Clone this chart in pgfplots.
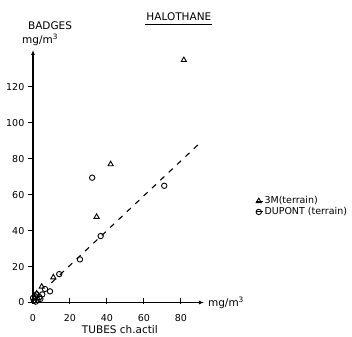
\documentclass[border=0pt]{standalone}
\usepackage{fontspec}
\setmainfont{DejaVu Sans}
\usepackage{pgfplots}
\pgfplotsset{compat=1.18}
\usetikzlibrary{arrows.meta}
\begin{document}
\begin{tikzpicture}
\fontsize{10.5}{12}\selectfont
\path[use as bounding box] (-33pt,-33.5pt) rectangle (319pt,302.5pt);
\begin{axis}[
  at={(0,0)}, anchor=origin,
  scale only axis, width=171pt, height=252.5pt,
  xmin=0, xmax=92.5, ymin=0, ymax=140.6,
  axis lines=left,
  axis line style={line width=1.1pt, -{Latex[length=5pt,width=4pt]}},
  xtick={0,20,40,60,80}, ytick={0,20,40,60,80,100,120},
  tick align=outside, major tick length=5pt,
  tick style={line width=1pt, black},
  xtick style={yshift=4pt},
  xticklabel style={yshift=-3pt},
  /pgf/number format/assume math mode=true,
  ticklabel style={font=\fontsize{9.5}{11}\selectfont},
  clip=false,
  legend style={at={(1.30,0.38)}, anchor=west, draw=none, fill=none,
    font=\fontsize{9.5}{11}\selectfont, row sep=0pt, inner sep=0pt,
    nodes={inner sep=1pt}},
  legend cell align=left,
  legend image code/.code={\path (-0.05cm,0) -- (0.2cm,0);\draw[#1] plot coordinates {(0.05cm,0cm)};},
]
\addplot[only marks, mark=triangle, mark size=3pt, line width=0.9pt, black]
  coordinates {(81.6,135) (42,77) (34.4,47.7) (11,14) (4.7,8.8) (2,5) (1,2.5)};
\addlegendentry{3M(terrain)}
\addplot[only marks, mark=o, mark size=2.7pt, line width=0.9pt, black]
  coordinates {(32,69.5) (71,65) (36.6,37) (25.4,24) (14.2,15.8) (9.2,6.2) (6.5,7.5)
   (5,4.5) (3.5,3) (2.5,1.5) (1,3.5) (0.5,1) (1.5,0.5) (0,2.5) (4,2) (2,4.5)};
\addlegendentry{DUPONT (terrain)}
\addplot[black, line width=1.1pt, dash pattern=on 5.5pt off 6pt, forget plot]
  coordinates {(10,11) (91,89.5)};
\node at (axis cs:78.9,159) {HALOTHANE};
\draw[line width=1pt] (axis cs:60.5,155) -- (axis cs:96.8,155);
\node at (axis cs:9.2,154) {BADGES};
\node at (axis cs:3.8,146) {mg/m\textsuperscript{3}};
\node[anchor=west, inner sep=0pt] at (axis cs:94.6,0) {mg/m\textsuperscript{3}};
\node at (axis cs:47,-15.3) {TUBES ch.actil};
\end{axis}
\end{tikzpicture}
\end{document}
